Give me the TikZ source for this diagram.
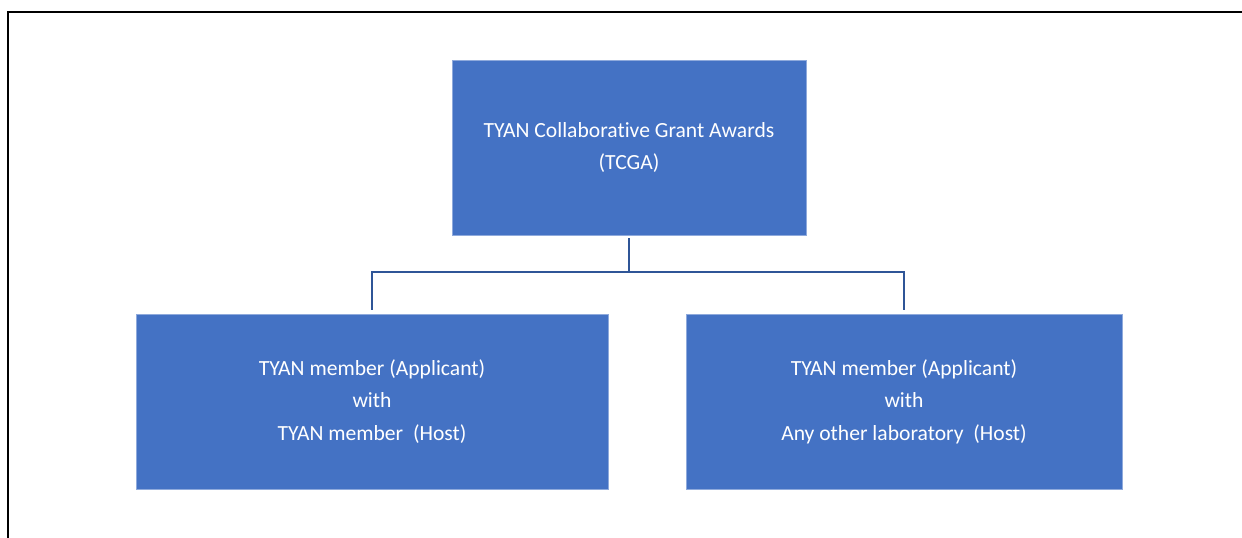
\documentclass[tikz,border=0pt]{standalone}
\usepackage{fontspec}
\setmainfont{Carlito}[Ligatures={NoCommon}]
\usepackage{tikz}
\usetikzlibrary{positioning, calc}

\definecolor{boxblue}{HTML}{4472C4}
\definecolor{boxedge}{HTML}{8FAADC}
\definecolor{linkblue}{HTML}{2F5597}

\begin{document}
\begin{tikzpicture}[x=1pt, y=-1pt,
    award/.style={rectangle, fill=boxblue, draw=boxedge, line width=0.6pt, text=white,
        align=center, inner sep=0pt, minimum height=175pt,
        font=\fontsize{21.6}{32.5}\selectfont},
    link/.style={draw=linkblue, line width=2.2pt, shorten <=3pt, shorten >=4pt}]
                        \clip (0, 0) rectangle (1242, 538);
                        \draw[line width=2pt] (8, 12) rectangle (1270, 570);
                        \node[award, minimum width=354pt] (tcga) at (629, 147.5) {TYAN Collaborative Grant Awards\\(TCGA)};
                        \node[award, minimum width=472pt] (member) at (372, 401.5) {TYAN member (Applicant)\\with\\TYAN member~ (Host)};
                        \node[award, minimum width=436pt] (other) at (904, 401.5) {TYAN member (Applicant)\\with\\Any other laboratory~ (Host)};
                        \coordinate (split) at (629, 272);
                        \draw[link, shorten >=0pt] (tcga) -- (split);
                        \draw[link, shorten <=0pt] (split) -| (member);
                        \draw[link, shorten <=0pt] (split) -| (other);
                    \end{tikzpicture}
\end{document}
